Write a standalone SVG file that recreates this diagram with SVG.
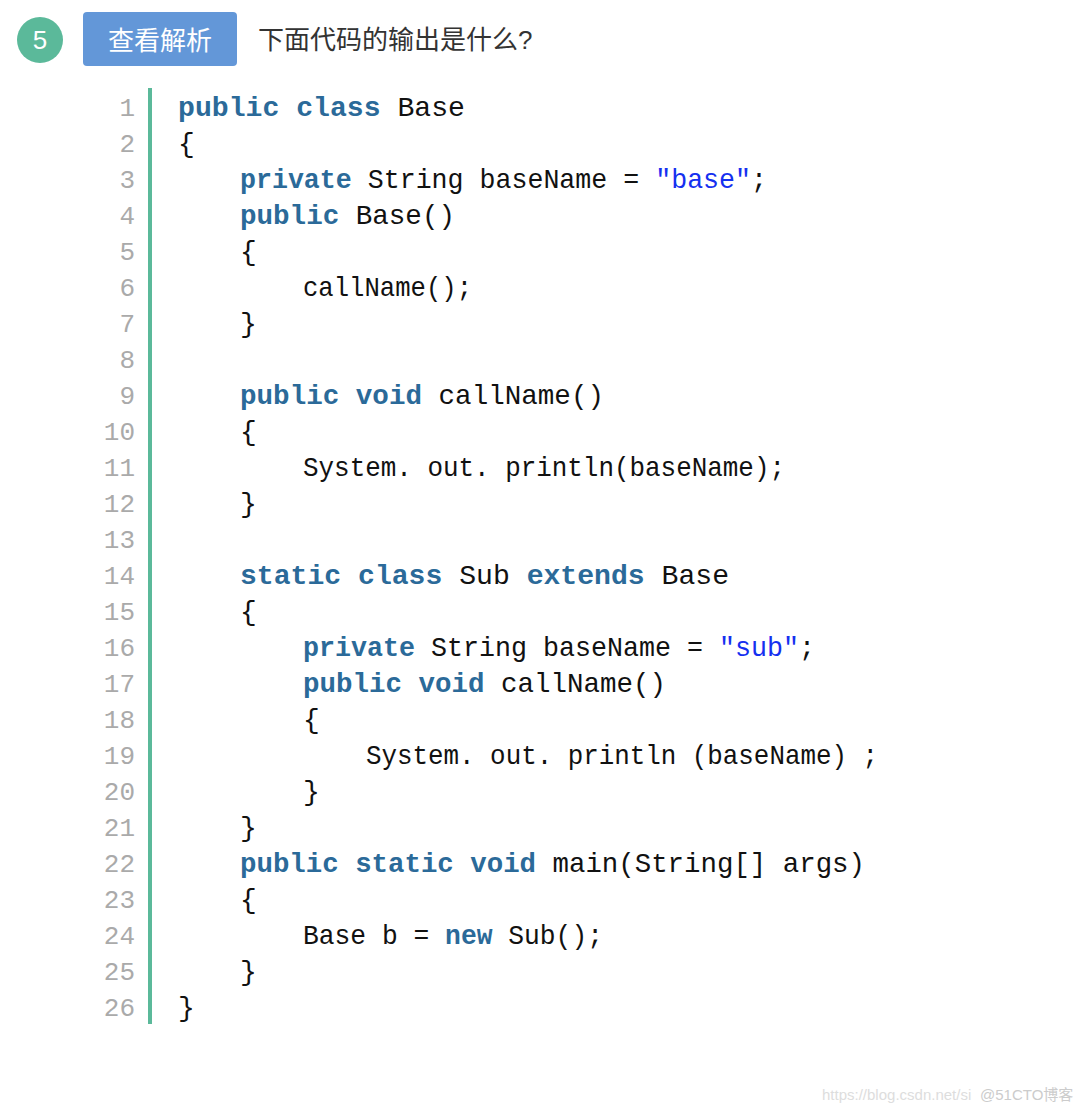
<svg xmlns="http://www.w3.org/2000/svg" width="1090" height="1112" viewBox="0 0 1090 1112">
<style>
.c{font-family:"Liberation Mono","DejaVu Sans Mono",monospace;font-size:28px;fill:#111}
.k{fill:#2b6a99;font-weight:bold}
.s{fill:#1530f0}
.n{font-family:"Liberation Mono",monospace;font-size:26px;fill:#aaa;text-anchor:end}
.h{font-family:"Liberation Sans","Noto Sans CJK SC",sans-serif}
</style>
<rect width="1090" height="1112" fill="#fff"/>
<g id="header">
<circle cx="40" cy="40" r="23" fill="#5bb99a"/>
<text x="40" y="49" class="h" font-size="26" fill="#fff" text-anchor="middle">5</text>
<rect x="83" y="12" width="154" height="54" rx="4" fill="#6397d8"/>
<text x="160" y="50" class="h" font-size="26" fill="#fff" text-anchor="middle">查看解析</text>
<text x="258" y="49" class="h" font-size="26" fill="#333">下面代码的输出是什么?</text>
</g>
<rect x="148" y="88" width="4" height="936" fill="#5bb99a"/>
<g id="linenums">
<text class="n" x="135" y="116">1</text><text class="n" x="135" y="152">2</text><text class="n" x="135" y="188">3</text><text class="n" x="135" y="224">4</text><text class="n" x="135" y="260">5</text><text class="n" x="135" y="296">6</text><text class="n" x="135" y="332">7</text><text class="n" x="135" y="368">8</text><text class="n" x="135" y="404">9</text><text class="n" x="135" y="440">10</text><text class="n" x="135" y="476">11</text><text class="n" x="135" y="512">12</text><text class="n" x="135" y="548">13</text><text class="n" x="135" y="584">14</text><text class="n" x="135" y="620">15</text><text class="n" x="135" y="656">16</text><text class="n" x="135" y="692">17</text><text class="n" x="135" y="728">18</text><text class="n" x="135" y="764">19</text><text class="n" x="135" y="800">20</text><text class="n" x="135" y="836">21</text><text class="n" x="135" y="872">22</text><text class="n" x="135" y="908">23</text><text class="n" x="135" y="944">24</text><text class="n" x="135" y="980">25</text><text class="n" x="135" y="1016">26</text>
</g>
<g id="code" xml:space="preserve">
<text class="c" x="178" y="116" textLength="287" lengthAdjust="spacingAndGlyphs"><tspan class="k">public class</tspan> Base</text>
<text class="c" x="178" y="152">{</text>
<text class="c" x="240" y="188" textLength="527" lengthAdjust="spacingAndGlyphs"><tspan class="k">private</tspan> String baseName = <tspan class="s">"base"</tspan>;</text>
<text class="c" x="240" y="224" textLength="215" lengthAdjust="spacingAndGlyphs"><tspan class="k">public</tspan> Base()</text>
<text class="c" x="240" y="260">{</text>
<text class="c" x="303" y="296" textLength="169" lengthAdjust="spacingAndGlyphs">callName();</text>
<text class="c" x="240" y="332">}</text>
<text class="c" x="240" y="404" textLength="364" lengthAdjust="spacingAndGlyphs"><tspan class="k">public void</tspan> callName()</text>
<text class="c" x="240" y="440">{</text>
<text class="c" x="303" y="476" textLength="482" lengthAdjust="spacingAndGlyphs">System. out. println(baseName);</text>
<text class="c" x="240" y="512">}</text>
<text class="c" x="240" y="584" textLength="489" lengthAdjust="spacingAndGlyphs"><tspan class="k">static class</tspan> Sub <tspan class="k">extends</tspan> Base</text>
<text class="c" x="240" y="620">{</text>
<text class="c" x="303" y="656" textLength="512" lengthAdjust="spacingAndGlyphs"><tspan class="k">private</tspan> String baseName = <tspan class="s">"sub"</tspan>;</text>
<text class="c" x="303" y="692" textLength="363" lengthAdjust="spacingAndGlyphs"><tspan class="k">public void</tspan> callName()</text>
<text class="c" x="303" y="728">{</text>
<text class="c" x="366" y="764" textLength="512" lengthAdjust="spacingAndGlyphs">System. out. println (baseName) ;</text>
<text class="c" x="303" y="800">}</text>
<text class="c" x="240" y="836">}</text>
<text class="c" x="240" y="872" textLength="625" lengthAdjust="spacingAndGlyphs"><tspan class="k">public static void</tspan> main(String[] args)</text>
<text class="c" x="240" y="908">{</text>
<text class="c" x="303" y="944" textLength="300" lengthAdjust="spacingAndGlyphs">Base b = <tspan class="k">new</tspan> Sub();</text>
<text class="c" x="240" y="980">}</text>
<text class="c" x="178" y="1016">}</text>
</g>
<g id="watermark" class="h" font-size="15" fill="#ddd">
<text x="822" y="1100">https://blog.csdn.net/si</text>
<text x="980" y="1100" fill="#ccc">@51CTO博客</text>
</g>
</svg>
